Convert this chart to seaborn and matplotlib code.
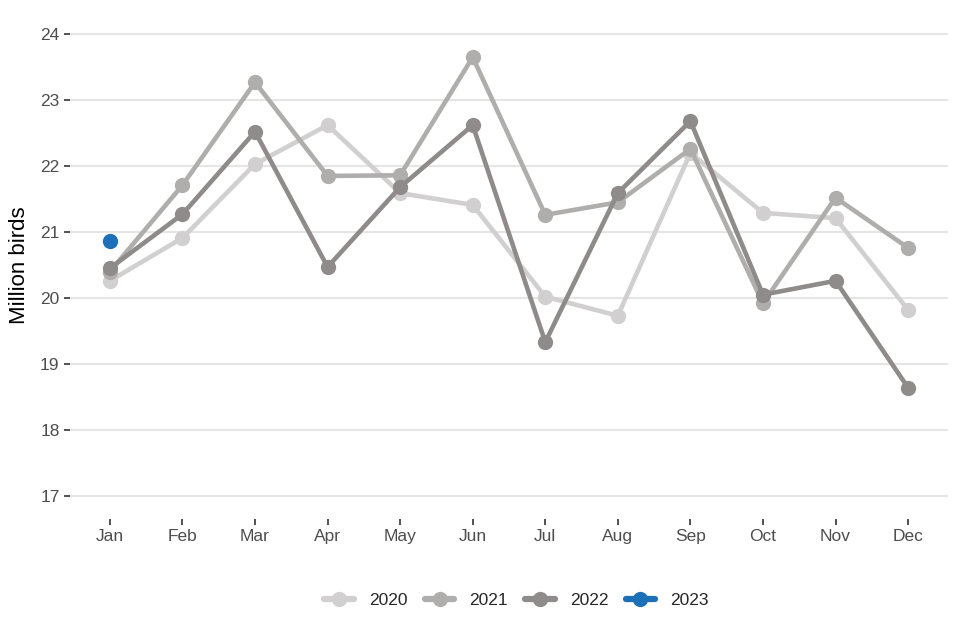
import matplotlib
matplotlib.use("Agg")
import matplotlib.pyplot as plt
import seaborn as sns
import pandas as pd
from matplotlib.lines import Line2D

months = ["Jan", "Feb", "Mar", "Apr", "May", "Jun", "Jul", "Aug", "Sep", "Oct", "Nov", "Dec"]
y2020 = [20.26, 20.91, 22.03, 22.62, 21.59, 21.41, 20.02, 19.73, 22.20, 21.29, 21.21, 19.82]
y2021 = [20.40, 21.71, 23.27, 21.85, 21.86, 23.65, 21.26, 21.45, 22.26, 19.92, 21.52, 20.76]
y2022 = [20.45, 21.27, 22.52, 20.47, 21.68, 22.62, 19.33, 21.59, 22.68, 20.05, 20.26, 18.64]
y2023 = [20.86]
years = ["2020", "2021", "2022", "2023"]
colors = ["#d1cfcf", "#b0adad", "#8f8b8b", "#1d6fb7"]
yticks = [17, 18, 19, 20, 21, 22, 23, 24]

rows = []
for yr, vals in zip(years, [y2020, y2021, y2022, y2023]):
    for i, v in enumerate(vals):
        rows.append({"year": yr, "month": i, "value": v})
df = pd.DataFrame(rows)

sns.set_theme(style="white")
plt.rcParams["font.family"] = ["Liberation Sans", "DejaVu Sans"]

fig = plt.figure(figsize=(9.6, 6.4), dpi=100)
ax = fig.add_axes([70 / 960, 1 - 519 / 640, 878 / 960, 508 / 640])

sns.lineplot(data=df, x="month", y="value", hue="year", hue_order=years,
             palette=dict(zip(years, colors)), marker="o", markersize=11,
             markeredgewidth=0, linewidth=3.3, ax=ax, legend=False)

ax.set_xlim(-0.55, 11.55)
ax.set_ylim(16.65, 24.35)
ax.set_xticks(range(12))
ax.set_xticklabels(months)
ax.set_yticks(yticks)
ax.set_yticklabels([str(t) for t in yticks])
ax.yaxis.grid(True, color="#e5e5e5", linewidth=1.5)
ax.xaxis.grid(False)
ax.set_axisbelow(True)
for s in ax.spines.values():
    s.set_visible(False)
ax.tick_params(axis="both", which="both", length=4.3, width=1.2, color="#333333",
               labelcolor="#4d4d4d", labelsize=12.5, pad=3.2, bottom=True, left=True)
ax.set_xlabel("")
ax.set_ylabel("Million birds", fontsize=16, color="black", labelpad=7)

handles = [Line2D([0], [0], color=c, linewidth=4.5, marker="o", markersize=11,
                  markeredgewidth=0) for c in colors]
fig.legend(handles, years, loc="center", bbox_to_anchor=(0.538, 0.0625), ncol=4,
           frameon=False, fontsize=12.5, handlelength=1.7, columnspacing=1.0,
           handletextpad=0.86)

fig.savefig("out.png", dpi=100)
